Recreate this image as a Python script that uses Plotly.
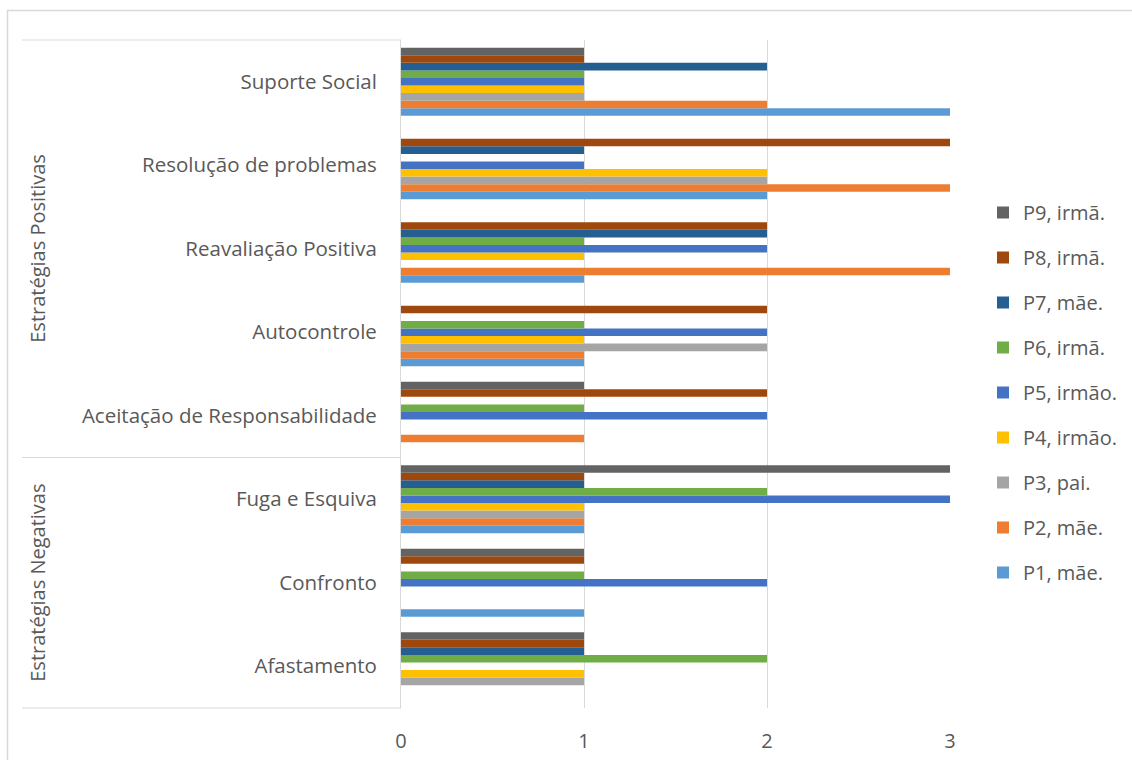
import plotly.graph_objects as go

# Categories, bottom to top
categories = ["Afastamento", "Confronto", "Fuga e Esquiva",
              "Aceitação de Responsabilidade", "Autocontrole",
              "Reavaliação Positiva", "Resolução de problemas", "Suporte Social"]

series_names = ["P1, mãe.", "P2, mãe.", "P3, pai.", "P4, irmão.", "P5, irmão.",
                "P6, irmã.", "P7, mãe.", "P8, irmã.", "P9, irmã."]

# values per series, in category order above (bottom to top)
p1 = [0, 1, 1, 0, 1, 1, 2, 3]
p2 = [0, 0, 1, 1, 1, 3, 3, 2]
p3 = [1, 0, 1, 0, 2, 0, 2, 1]
p4 = [1, 0, 1, 0, 1, 1, 2, 1]
p5 = [0, 2, 3, 2, 2, 2, 1, 1]
p6 = [2, 1, 2, 1, 1, 1, 0, 1]
p7 = [1, 0, 1, 0, 0, 2, 1, 2]
p8 = [1, 1, 1, 2, 2, 2, 3, 1]
p9 = [1, 1, 3, 1, 0, 0, 0, 1]
series_values = [p1, p2, p3, p4, p5, p6, p7, p8, p9]

colors = ["#5B9BD5", "#ED7D31", "#A5A5A5", "#FFC000", "#4472C4",
          "#70AD47", "#255E91", "#9E480E", "#636363"]

x_ticks = [0, 1, 2, 3]
group_labels = ["Estratégias Positivas", "Estratégias Negativas"]

FONT = "Open Sans"
TXT = "#595959"
FS = 20

fig = go.Figure()
n = len(series_names)
for i, (name, vals, col) in enumerate(zip(series_names, series_values, colors)):
    fig.add_trace(go.Bar(
        y=categories, x=vals, name=name, orientation="h",
        marker=dict(color=col, line=dict(width=0)),
        legendgroup=name, legendrank=n - i,
    ))

L, R, T, B = 401, 182, 40, 52
W, H = 1132, 760
pw = W - L - R
ph = H - T - B

def px_x(p):
    return (p - L) / pw

def px_y(p):
    return (H - B - p) / ph

shapes = []
# outer chart border
shapes.append(dict(type="rect", xref="paper", yref="paper",
                   x0=px_x(7.5), x1=px_x(1145), y0=px_y(775), y1=px_y(10.5),
                   line=dict(color="#D9D9D9", width=1.5), fillcolor="rgba(0,0,0,0)", layer="below"))
# category group dividers
for yy in [0, 3 / 8, 1]:
    shapes.append(dict(type="line", xref="paper", yref="paper",
                       x0=px_x(22), x1=0, y0=yy, y1=yy,
                       line=dict(color="#D9D9D9", width=1)))

annotations = [
    dict(text=group_labels[0], xref="paper", yref="paper", x=px_x(38), y=(3 / 8 + 1) / 2,
         xanchor="center", yanchor="middle",
         textangle=-90, showarrow=False, font=dict(family=FONT, size=FS, color=TXT)),
    dict(text=group_labels[1], xref="paper", yref="paper", x=px_x(38), y=3 / 16,
         xanchor="center", yanchor="middle",
         textangle=-90, showarrow=False, font=dict(family=FONT, size=FS, color=TXT)),
]

fig.update_layout(
    width=W, height=H,
    margin=dict(l=L, r=R, t=T, b=B, pad=0, autoexpand=False),
    paper_bgcolor="white", plot_bgcolor="white",
    barmode="group", bargap=0.185, bargroupgap=0,
    font=dict(family=FONT, size=FS, color=TXT),
    xaxis=dict(range=[0, 3], tickvals=x_ticks, showgrid=True, gridcolor="#D9D9D9",
               gridwidth=1, zeroline=False, showline=False, ticks="", automargin=False,
               ticklabelstandoff=19, tickfont=dict(size=FS, color=TXT), fixedrange=True),
    yaxis=dict(type="category", categoryorder="array", categoryarray=categories,
               showgrid=False, zeroline=False, showline=True, linecolor="#D9D9D9",
               linewidth=1, ticks="", ticklabelstandoff=19, automargin=False,
               tickfont=dict(size=20.5, color=TXT)),
    legend=dict(x=px_x(983), y=px_y(193), xanchor="left", yanchor="top",
                traceorder="grouped", tracegroupgap=16,
                font=dict(family=FONT, size=FS, color=TXT), bgcolor="rgba(0,0,0,0)"),
    shapes=shapes,
    annotations=annotations,
    showlegend=True,
)

fig.write_html("out.html")
